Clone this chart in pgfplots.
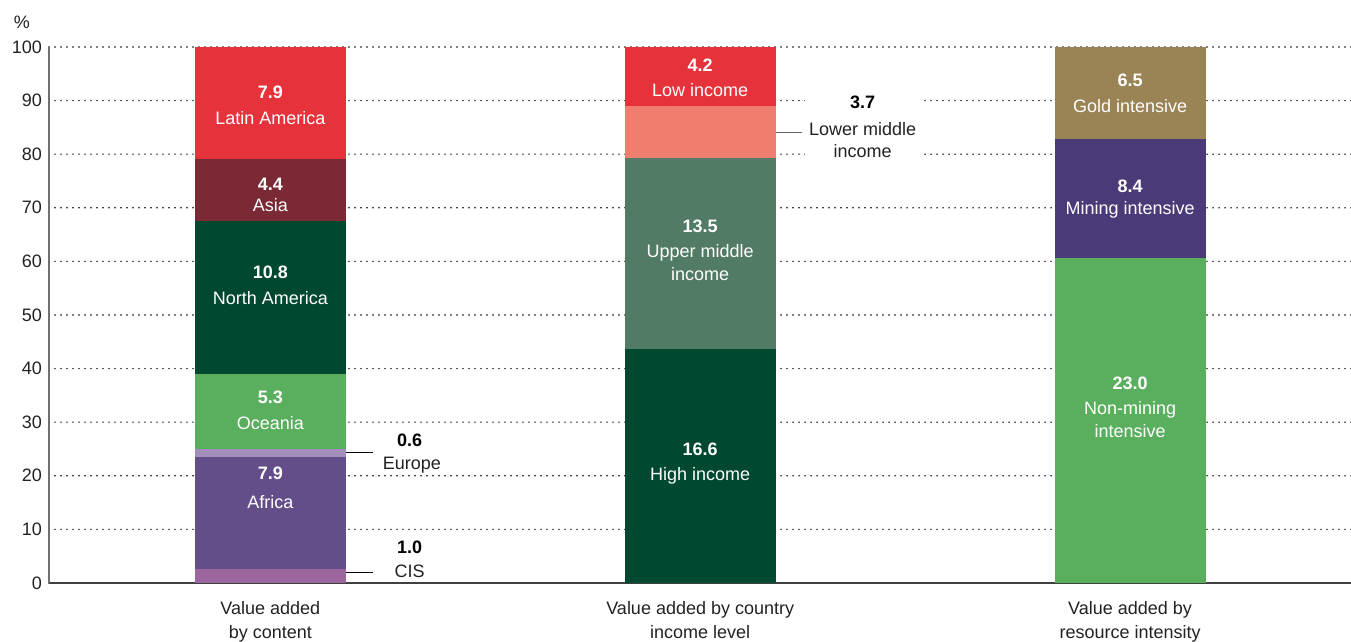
\documentclass[border=0pt]{standalone}
\usepackage{fontspec}
\setmainfont{Liberation Sans}
\usepackage{pgfplots}
\pgfplotsset{compat=1.18}
\definecolor{cLat}{HTML}{E5323B}
\definecolor{cAsia}{HTML}{7B2A35}
\definecolor{cNA}{HTML}{004830}
\definecolor{cOce}{HTML}{5AAF5E}
\definecolor{cEur}{HTML}{A48EBB}
\definecolor{cAfr}{HTML}{634E89}
\definecolor{cCIS}{HTML}{9C669E}
\definecolor{cLow}{HTML}{E5323B}
\definecolor{cLowMid}{HTML}{F07E6E}
\definecolor{cUpMid}{HTML}{517B65}
\definecolor{cHigh}{HTML}{004830}
\definecolor{cGold}{HTML}{9A8455}
\definecolor{cMin}{HTML}{4A3A78}
\definecolor{cNon}{HTML}{5AAF5E}
\definecolor{txtc}{HTML}{222222}
\definecolor{axisgray}{HTML}{707070}
\newcommand{\bnum}[1]{\textbf{#1}}
\begin{document}
\begin{tikzpicture}[font=\fontsize{9}{11}\selectfont]
\begin{axis}[
  scale only axis, width=651pt, height=268pt,
  xmin=-0.515, xmax=2.514, ymin=0, ymax=100,
  axis x line*=bottom, axis y line*=left,
  x axis line style={-, draw=black!75, line width=0.6pt},
  y axis line style={-, draw=axisgray, line width=0.6pt},
  ytick={0,10,...,100}, xtick={0,1,2},
  xticklabels={{Value added\\by content},{Value added by country\\income level},{Value added by\\resource intensity}},
  xticklabel style={align=center, font=\fontsize{9}{12}\selectfont, text=txtc, yshift=-5.5pt},
  yticklabel style={text=txtc},
  /pgf/number format/assume math mode=true,
  major tick length=0pt,
  ymajorgrids,
  grid style={black, line width=0.8pt, dash pattern=on 0pt off 3pt, line cap=round},
  ybar stacked, bar width=75.5pt,
  clip=false,
]
% Value added by content (shares of 37.9)
\addplot[fill=cCIS, draw=none] coordinates {(0,2.639) (1,0) (2,0)};
\addplot[fill=cAfr, draw=none] coordinates {(0,20.844) (1,0) (2,0)};
\addplot[fill=cEur, draw=none] coordinates {(0,1.583) (1,0) (2,0)};
\addplot[fill=cOce, draw=none] coordinates {(0,13.984) (1,0) (2,0)};
\addplot[fill=cNA, draw=none] coordinates {(0,28.496) (1,0) (2,0)};
\addplot[fill=cAsia, draw=none] coordinates {(0,11.609) (1,0) (2,0)};
\addplot[fill=cLat, draw=none] coordinates {(0,20.844) (1,0) (2,0)};
% Value added by country income level (shares of 38.0)
\addplot[fill=cHigh, draw=none] coordinates {(0,0) (1,43.684) (2,0)};
\addplot[fill=cUpMid, draw=none] coordinates {(0,0) (1,35.526) (2,0)};
\addplot[fill=cLowMid, draw=none] coordinates {(0,0) (1,9.737) (2,0)};
\addplot[fill=cLow, draw=none] coordinates {(0,0) (1,11.053) (2,0)};
% Value added by resource intensity (shares of 37.9)
\addplot[fill=cNon, draw=none] coordinates {(0,0) (1,0) (2,60.686)};
\addplot[fill=cMin, draw=none] coordinates {(0,0) (1,0) (2,22.164)};
\addplot[fill=cGold, draw=none] coordinates {(0,0) (1,0) (2,17.150)};

\coordinate (bl) at (rel axis cs:0,0);
\coordinate (tr) at (rel axis cs:1,1);
\coordinate (O) at (axis cs:0,0);
\end{axis}

\node[text=txtc, xshift=-13.5pt, yshift=12.5pt] at (bl|-tr) {\%};

\begin{scope}[x=214.9224pt, y=2.68pt, shift={(O)}]
\fill[white] (1.243,78.9) rectangle (1.521,92.5);
% bar 1
\node[text=white] at (0,91.6) {\bnum{7.9}};
\node[text=white] at (0,86.8) {Latin America};
\node[text=white] at (0,74.4) {\bnum{4.4}};
\node[text=white] at (0,70.5) {Asia};
\node[text=white] at (0,58.0) {\bnum{10.8}};
\node[text=white] at (0,53.2) {North America};
\node[text=white] at (0,34.7) {\bnum{5.3}};
\node[text=white] at (0,29.9) {Oceania};
\node[text=white] at (0,20.5) {\bnum{7.9}};
\node[text=white] at (0,15.1) {Africa};
% bar 2
\node[text=white] at (1,96.6) {\bnum{4.2}};
\node[text=white] at (1,92.0) {Low income};
\node[text=white] at (1,66.6) {\bnum{13.5}};
\node[text=white] at (1,61.6) {Upper middle};
\node[text=white] at (1,57.6) {income};
\node[text=white] at (1,25.0) {\bnum{16.6}};
\node[text=white] at (1,20.0) {High income};
% bar 3
\node[text=white] at (2,93.8) {\bnum{6.5}};
\node[text=white] at (2,89.0) {Gold intensive};
\node[text=white] at (2,74.1) {\bnum{8.4}};
\node[text=white] at (2,69.6) {Mining intensive};
\node[text=white] at (2,37.3) {\bnum{23.0}};
\node[text=white] at (2,32.3) {Non-mining};
\node[text=white] at (2,28.4) {intensive};
% outside annotations
\draw[black, line width=0.5pt] (0.1755,24.27) -- (0.238,24.27);
\node[text=black] at (0.324,26.7) {\bnum{0.6}};
\node[text=txtc] at (0.329,22.0) {Europe};
\draw[black, line width=0.5pt] (0.1755,1.87) -- (0.238,1.87);
\node[text=black] at (0.324,6.7) {\bnum{1.0}};
\node[text=txtc] at (0.324,2.24) {CIS};
\draw[black!60, line width=0.6pt] (1.1755,84.05) -- (1.236,84.05);
\node[text=black] at (1.378,89.7) {\bnum{3.7}};
\node[text=txtc] at (1.378,84.7) {Lower middle};
\node[text=txtc] at (1.378,80.6) {income};
\end{scope}

\pgfresetboundingbox
\path ([shift={(-24.5pt,-29.5pt)}]bl) rectangle ([shift={(0pt,23.5pt)}]tr);
\end{tikzpicture}
\end{document}
